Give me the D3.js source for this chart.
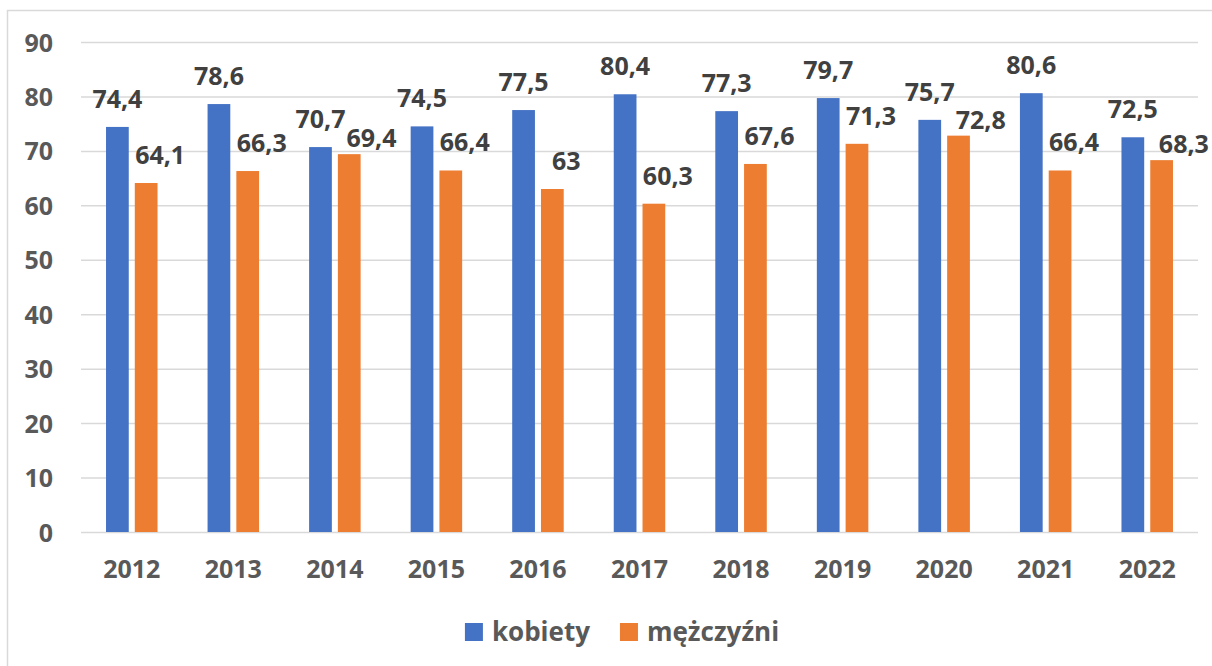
<!DOCTYPE html>
<html>
<head>
<meta charset="utf-8">
<script src="https://cdn.jsdelivr.net/npm/d3@7"></script>
<style>
  body { margin: 0; background: #fff; }
  text { font-family: "Open Sans", "Noto Sans", sans-serif; font-weight: 700; }
</style>
</head>
<body>
<div id="chart"></div>
<script>
// chart data
var years = ["2012", "2013", "2014", "2015", "2016", "2017", "2018", "2019", "2020", "2021", "2022"];
var kobiety = [74.4, 78.6, 70.7, 74.5, 77.5, 80.4, 77.3, 79.7, 75.7, 80.6, 72.5];
var mezczyzni = [64.1, 66.3, 69.4, 66.4, 63, 60.3, 67.6, 71.3, 72.8, 66.4, 68.3];
var seriesNames = ["kobiety", "mężczyźni"];
var yTicks = [0, 10, 20, 30, 40, 50, 60, 70, 80, 90];

var svgWidth = 1212;
var svgHeight = 666;
var colors = ["#4472C4", "#ED7D31"];

var plot = { left: 81, right: 1198, top: 42, bottom: 532 };

var svg = d3.select("#chart")
  .append("svg")
  .attr("width", svgWidth)
  .attr("height", svgHeight);

// outer frame (the right and bottom edges fall outside the picture)
svg.append("rect")
  .attr("x", 7.5)
  .attr("y", 10.5)
  .attr("width", 1230)
  .attr("height", 700)
  .attr("fill", "none")
  .attr("stroke", "#d9d9d9")
  .attr("stroke-width", 1.5);

var x0 = d3.scaleBand()
  .domain(years)
  .range([plot.left, plot.right]);

var half = 25.75;
var x1 = d3.scaleBand()
  .domain([0, 1])
  .range([x0.bandwidth() / 2 - half, x0.bandwidth() / 2 + half])
  .paddingInner(0.21);

var y = d3.scaleLinear()
  .domain([0, 90])
  .range([plot.bottom, plot.top]);

// gridlines + y labels
var yAxis = svg.append("g")
  .attr("transform", `translate(${plot.left},0)`)
  .call(d3.axisLeft(y).tickValues(yTicks).tickSize(-(plot.right - plot.left)).tickPadding(28));

yAxis.select(".domain").remove();
yAxis.selectAll(".tick line")
  .attr("stroke", "#d9d9d9")
  .attr("stroke-width", 1.5);
yAxis.selectAll(".tick text")
  .attr("fill", "#595959")
  .attr("font-size", "25px")
  .attr("dy", "0.36em");

// x labels
var xAxis = svg.append("g")
  .attr("transform", `translate(0,${plot.bottom})`)
  .call(d3.axisBottom(x0).tickSize(0).tickPadding(28));

xAxis.select(".domain").remove();
xAxis.selectAll(".tick text")
  .attr("fill", "#595959")
  .attr("font-size", "25px")
  .attr("dy", "0.71em");

// bars
var rows = years.map((yr, i) => ({ year: yr, values: [kobiety[i], mezczyzni[i]] }));

var groups = svg.selectAll(".year")
  .data(rows)
  .enter()
  .append("g")
  .attr("class", "year")
  .attr("transform", d => `translate(${x0(d.year)},0)`);

groups.selectAll("rect")
  .data(d => d.values.map((v, s) => ({ s: s, v: v })))
  .enter()
  .append("rect")
  .attr("x", d => x1(d.s))
  .attr("width", x1.bandwidth())
  .attr("y", d => y(d.v))
  .attr("height", d => y(0) - y(d.v))
  .attr("fill", d => colors[d.s]);

// value labels
groups.selectAll(".val")
  .data(d => d.values.map((v, s) => ({ s: s, v: v })))
  .enter()
  .append("text")
  .attr("class", "val")
  .attr("x", d => x1(d.s) + x1.bandwidth() / 2 + (d.s === 1 ? 14 : 0))
  .attr("y", d => y(d.v) - 19)
  .attr("text-anchor", "middle")
  .attr("font-size", "25px")
  .attr("fill", "#404040")
  .text(d => String(d.v).replace(".", ","));

// push the orange label off the blue one when they collide
groups.each(function () {
  var labels = d3.select(this).selectAll(".val").nodes();
  var a = labels[0].getBBox();
  var b = labels[1].getBBox();
  var overlapY = b.y < a.y + a.height - 3 && a.y < b.y + b.height - 3;
  if (overlapY && b.x < a.x + a.width + 1) {
    var shift = a.x + a.width + 1 - b.x;
    d3.select(labels[1])
      .attr("x", +d3.select(labels[1]).attr("x") + shift)
      .attr("y", +d3.select(labels[1]).attr("y") + 12);
  }
});

// legend
var legend = svg.append("g");
var lx = 0;
seriesNames.forEach(function (name, i) {
  var item = legend.append("g").attr("transform", `translate(${lx},0)`);
  item.append("rect")
    .attr("x", 0)
    .attr("y", -18)
    .attr("width", 18)
    .attr("height", 18)
    .attr("fill", colors[i]);
  var t = item.append("text")
    .attr("x", 27)
    .attr("y", 0)
    .attr("font-size", "26px")
    .attr("fill", "#595959")
    .text(name);
  lx += 27 + t.node().getComputedTextLength() + 30;
});
var legendWidth = lx - 30;
legend.attr("transform", `translate(${622 - legendWidth / 2},641)`);
</script>
</body>
</html>
